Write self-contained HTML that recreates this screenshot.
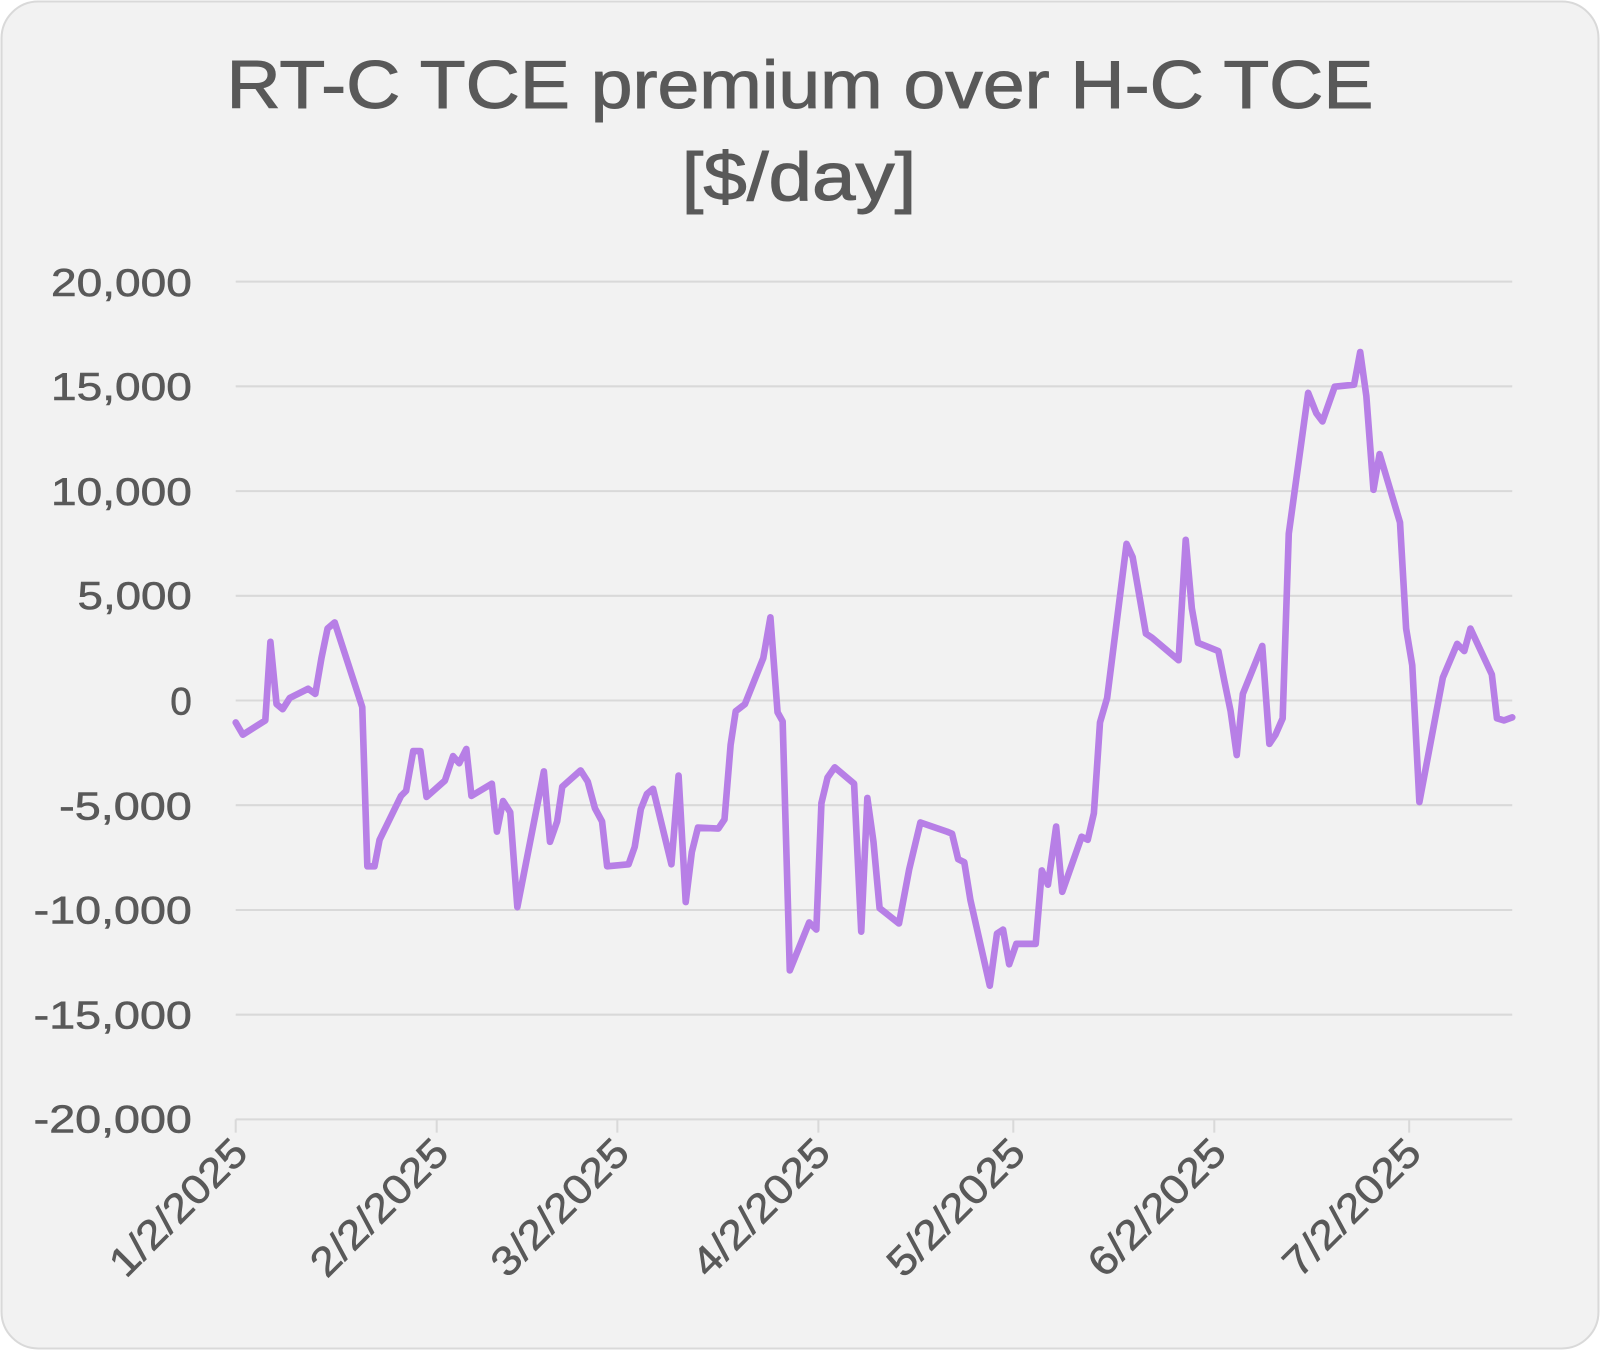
<!DOCTYPE html>
<html><head><style>
html,body{margin:0;padding:0;background:#fff;}
svg{display:block;}
</style></head><body>
<svg width="1600" height="1350" viewBox="0 0 1568 1323" xmlns="http://www.w3.org/2000/svg" preserveAspectRatio="none">
<rect x="1.5" y="1.5" width="1565" height="1320" rx="36" fill="#f2f2f2" stroke="#d9d9d9" stroke-width="2"/>
<g font-family="Liberation Sans, sans-serif" fill="#595959" stroke="#595959" stroke-width="1">
<text x="222" y="106" font-size="66" textLength="1124" lengthAdjust="spacingAndGlyphs">RT-C TCE premium over H-C TCE</text>
<text x="668" y="196" font-size="66" textLength="230" lengthAdjust="spacingAndGlyphs">[$/day]</text>
</g>
<g stroke="#d9d9d9" stroke-width="2">
<line x1="231" x2="1482" y1="276" y2="276"/>
<line x1="231" x2="1482" y1="378.6" y2="378.6"/>
<line x1="231" x2="1482" y1="481.3" y2="481.3"/>
<line x1="231" x2="1482" y1="583.9" y2="583.9"/>
<line x1="231" x2="1482" y1="686.5" y2="686.5"/>
<line x1="231" x2="1482" y1="789.1" y2="789.1"/>
<line x1="231" x2="1482" y1="891.8" y2="891.8"/>
<line x1="231" x2="1482" y1="994.4" y2="994.4"/>
<line x1="231" x2="1482" y1="1097" y2="1097"/>
<line x1="231" x2="231" y1="1097" y2="1110"/>
<line x1="428" x2="428" y1="1097" y2="1110"/>
<line x1="605" x2="605" y1="1097" y2="1110"/>
<line x1="802" x2="802" y1="1097" y2="1110"/>
<line x1="993" x2="993" y1="1097" y2="1110"/>
<line x1="1190" x2="1190" y1="1097" y2="1110"/>
<line x1="1381" x2="1381" y1="1097" y2="1110"/>
</g>
<g font-family="Liberation Sans, sans-serif" fill="#595959" font-size="38" text-anchor="end" stroke="#595959" stroke-width="0.6">
<text x="188" y="290" textLength="138" lengthAdjust="spacingAndGlyphs">20,000</text>
<text x="188" y="392" textLength="138" lengthAdjust="spacingAndGlyphs">15,000</text>
<text x="188" y="495" textLength="138" lengthAdjust="spacingAndGlyphs">10,000</text>
<text x="188" y="597" textLength="112" lengthAdjust="spacingAndGlyphs">5,000</text>
<text x="188" y="700">0</text>
<text x="188" y="803" textLength="130" lengthAdjust="spacingAndGlyphs">-5,000</text>
<text x="188" y="905" textLength="155" lengthAdjust="spacingAndGlyphs">-10,000</text>
<text x="188" y="1008" textLength="155" lengthAdjust="spacingAndGlyphs">-15,000</text>
<text x="188" y="1110" textLength="155" lengthAdjust="spacingAndGlyphs">-20,000</text>
<g font-size="40">
<text transform="translate(245,1132) rotate(-45)" textLength="172" lengthAdjust="spacingAndGlyphs">1/2/2025</text>
<text transform="translate(442,1132) rotate(-45)" textLength="172" lengthAdjust="spacingAndGlyphs">2/2/2025</text>
<text transform="translate(619,1132) rotate(-45)" textLength="172" lengthAdjust="spacingAndGlyphs">3/2/2025</text>
<text transform="translate(816,1132) rotate(-45)" textLength="172" lengthAdjust="spacingAndGlyphs">4/2/2025</text>
<text transform="translate(1007,1132) rotate(-45)" textLength="172" lengthAdjust="spacingAndGlyphs">5/2/2025</text>
<text transform="translate(1204,1132) rotate(-45)" textLength="172" lengthAdjust="spacingAndGlyphs">6/2/2025</text>
<text transform="translate(1395,1132) rotate(-45)" textLength="172" lengthAdjust="spacingAndGlyphs">7/2/2025</text>
</g>
</g>
<polyline fill="none" stroke="#b77fe6" stroke-width="6.5" stroke-linejoin="round" stroke-linecap="round" points="231,708 238,720 260,706 265,629 271,690 277,695 284,684 302,675 309,680 315,645 321,616 328,610 355,693 360,849 367,849 372,823 393,780 398,775 405,736 412,736 418,781 436,765 444,741 450,748 457,734 462,780 482,768 487,815 493,785 500,796 507,889 533,756 539,825 546,805 551,771 569,755 576,766 583,792 590,805 595,849 616,847 622,830 628,793 634,778 640,773 658,847 665,760 672,884 678,835 684,811 704,812 710,803 716,730 721,697 730,690 748,645 755,605 762,698 767,707 774,951 793,904 800,911 805,787 811,762 818,752 837,768 844,913 850,782 856,825 862,890 881,905 891,852 902,806 928,815 933,817 939,842 945,845 951,882 970,966 977,915 983,911 989,945 996,925 1015,925 1021,853 1027,867 1035,810 1041,874 1060,820 1066,823 1072,797 1078,708 1085,684 1104,533 1110,546 1123,621 1129,625 1155,647 1162,529 1168,596 1174,630 1194,638 1200,668 1206,697 1212,740 1218,680 1237,633 1244,729 1250,720 1257,704 1263,523 1282,385 1290,405 1296,413 1308,379 1327,377 1333,345 1339,388 1346,480 1352,445 1372,512 1378,616 1384,652 1391,786 1414,664 1428,631 1435,638 1441,616 1462,661 1467,704 1474,706 1482,703"/>
</svg>
</body></html>
